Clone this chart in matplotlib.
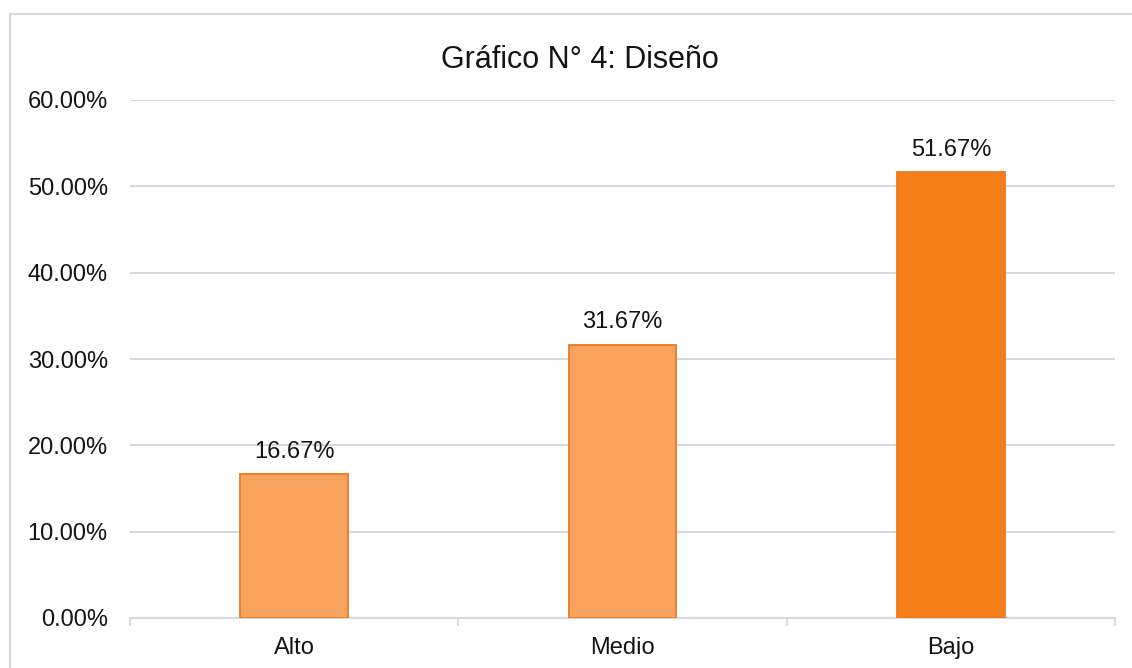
import matplotlib
matplotlib.use("Agg")
import matplotlib.pyplot as plt
from matplotlib.patches import Rectangle

categories = ["Alto", "Medio", "Bajo"]
values = [0.1667, 0.3167, 0.5167]
labels = ["16.67%", "31.67%", "51.67%"]
yticks = [0.0, 0.1, 0.2, 0.3, 0.4, 0.5, 0.6]
ytick_labels = ["0.00%", "10.00%", "20.00%", "30.00%", "40.00%", "50.00%", "60.00%"]
bar_colors = ["#F7A35E", "#F7A35E", "#F57E19"]
title = "Gráfico N° 4: Diseño"

plt.rcParams['font.family'] = ['Liberation Sans', 'DejaVu Sans']

W, H = 1132, 668
fig = plt.figure(figsize=(W / 100, H / 100), dpi=100)
fig.patch.set_facecolor("white")

# outer chart border
fig.patches.append(Rectangle((10 / W, -0.05), 1.2, 1 - 14 / H + 0.05,
                             transform=fig.transFigure, fill=False,
                             edgecolor="#D9D9D9", linewidth=1.5, zorder=0))

ax = fig.add_axes([130 / W, 1 - 618 / H, (1115 - 130) / W, (618 - 100) / H])
x = list(range(len(categories)))
ax.bar(x, values, width=0.327, color=bar_colors, edgecolor="#EC7A23",
       linewidth=1.3, zorder=3)

for xi, v, lab in zip(x, values, labels):
    ax.annotate(lab, (xi, v), xytext=(0, 8), textcoords="offset points",
                ha="center", va="bottom", fontsize=17, color="#141414")

ax.set_xlim(-0.5, 2.5)
ax.set_ylim(0, 0.6)
ax.set_yticks(yticks)
ax.set_yticklabels(ytick_labels, fontsize=17, color="#141414")
ax.set_xticks(x)
ax.set_xticklabels(categories, fontsize=17, color="#141414")
ax.set_xticks([-0.5, 0.5, 1.5, 2.5], minor=True)
ax.tick_params(axis="x", which="major", length=0, pad=14)
ax.tick_params(axis="x", which="minor", length=6, color="#D9D9D9", width=1.5)
ax.tick_params(axis="y", length=0, pad=16)

ax.grid(axis="y", color="#D9D9D9", linewidth=1.5, zorder=0)
ax.set_axisbelow(True)
for s in ["top", "right", "left"]:
    ax.spines[s].set_visible(False)
ax.spines["bottom"].set_color("#D9D9D9")
ax.spines["bottom"].set_linewidth(1.5)

fig.text(580 / W, 1 - 60 / H, title, ha="center", va="center",
         fontsize=22, color="#141414")

fig.savefig("out.png", dpi=100)
